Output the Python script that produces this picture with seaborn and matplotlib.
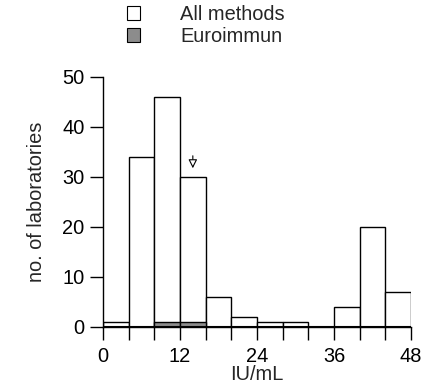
import matplotlib
matplotlib.use("Agg")
import matplotlib.pyplot as plt
import seaborn as sns
import numpy as np
from matplotlib.patches import Patch

sns.set_style("ticks")
plt.rcParams['font.family'] = ['Liberation Sans', 'DejaVu Sans']

bin_edges = [0, 4, 8, 12, 16, 20, 24, 28, 32, 36, 40, 44, 48]
all_counts = [1, 34, 46, 30, 6, 2, 1, 1, 0, 4, 20, 7]
euro_counts = [0, 0, 1, 1, 0, 0, 0, 0, 0, 0, 0, 0]
x_ticks = [0, 12, 24, 36, 48]
y_ticks = [0, 10, 20, 30, 40, 50]
target_value = 14
labels = ["All methods", "Euroimmun"]

centers = [(a + b) / 2 for a, b in zip(bin_edges[:-1], bin_edges[1:])]

FS = 14.4

fig = plt.figure(figsize=(4.21, 3.89), dpi=100)
ax = fig.add_axes([103/421, 1-327/389, 308/421, 250/389])

sns.histplot(x=centers, weights=all_counts, bins=bin_edges, ax=ax,
             color="white", edgecolor="black", linewidth=1.0, alpha=1)
sns.histplot(x=centers, weights=euro_counts, bins=bin_edges, ax=ax,
             color="#8c8c8c", edgecolor="black", linewidth=1.0, alpha=1)

ax.axhline(0, color="black", lw=1.5, zorder=5)
ax.set_xlim(0, 48)
ax.set_ylim(0, 50)
ax.set_xticks(bin_edges, minor=False)
ax.set_xticklabels([str(v) if v in x_ticks else "" for v in bin_edges])
ax.set_yticks(y_ticks)
ax.tick_params(axis='both', direction='out', length=9.2, width=1, colors='black',
               labelsize=FS)
ax.tick_params(axis='x', pad=5)
ax.tick_params(axis='y', pad=4)
for s in ["top", "right"]:
    ax.spines[s].set_visible(False)
for s in ["left", "bottom"]:
    ax.spines[s].set_color("black")
    ax.spines[s].set_linewidth(1)
ax.set_xlabel("IU/mL", fontsize=FS, labelpad=-0.5)
ax.set_ylabel("no. of laboratories", fontsize=FS, labelpad=12)

ax.annotate("", xy=(target_value, 31.2), xytext=(target_value, 34.8),
            arrowprops=dict(arrowstyle="-|>", fc="white", ec="black", lw=0.8,
                            mutation_scale=13))

handles = [Patch(facecolor="white", edgecolor="black", lw=0.8),
           Patch(facecolor="#8c8c8c", edgecolor="black", lw=0.8)]
fig.legend(handles, labels, loc="upper left", bbox_to_anchor=(119/421, 1.008),
           frameon=False, fontsize=FS, handlelength=0.65, handleheight=0.65,
           handletextpad=2.0, labelspacing=0.15, borderaxespad=0.0)

fig.savefig("out.png", dpi=100)
